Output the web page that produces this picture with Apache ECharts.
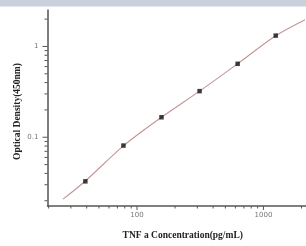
<!DOCTYPE html>
<html><head><meta charset="utf-8">
<script src="https://cdn.jsdelivr.net/npm/echarts@6/dist/echarts.min.js"></script>
<style>html,body{margin:0;padding:0;background:#fff}#c{width:306px;height:246px}</style>
</head><body><div id="c"></div>
<script>
// Data
const concentrations = [39.06, 78.13, 156.25, 312.5, 625, 1250];
const opticalDensity = [0.0327, 0.081, 0.166, 0.322, 0.644, 1.316];
// fitted curve
const curveX = [26.0, 39.06, 78.13, 156.25, 312.5, 625, 1250, 2133];
const curveY = [0.0208, 0.0330, 0.0805, 0.166, 0.322, 0.645, 1.31, 1.97];
const xMajorTicks = [100, 1000];
const xMinorTicks = [20, 30, 40, 50, 60, 70, 80, 90, 200, 300, 400, 500, 600, 700, 800, 900, 2000];
const yMajorTicks = [0.1, 1];
const yMinorTicks = [0.02, 0.03, 0.04, 0.05, 0.06, 0.07, 0.08, 0.09, 0.2, 0.3, 0.4, 0.5, 0.6, 0.7, 0.8, 0.9, 2];
const xLabels = ['100', '1000'];
const yLabels = ['0.1', '1'];
const xRange = [19.6, 2170];
const yRange = [0.0175, 2.52];

const chart = echarts.init(document.getElementById('c'), null, {renderer: 'canvas'});
const axisColor = '#555';
const serif = '"Liberation Serif","DejaVu Serif",serif';

const tickData = [];
xMajorTicks.forEach((v, i) => tickData.push({value: [v, yRange[0]], dir: 'x', len: 4, label: xLabels[i]}));
xMinorTicks.forEach(v => tickData.push({value: [v, yRange[0]], dir: 'x', len: 2.5}));
yMajorTicks.forEach((v, i) => tickData.push({value: [xRange[0], v], dir: 'y', len: 5, label: yLabels[i]}));
yMinorTicks.forEach(v => tickData.push({value: [xRange[0], v], dir: 'y', len: 3}));

const labelStyle = {fill: '#777', fontSize: 7, fontFamily: 'DejaVu Sans'};

chart.setOption({
  animation: false,
  backgroundColor: '#fff',
  graphic: [
    {type: 'rect', left: 0, top: 0, shape: {width: 306, height: 6}, style: {fill: '#c9d1dd'}, z: 10},
    {type: 'rect', left: 0, top: 6, shape: {width: 306, height: 1}, style: {fill: '#e4e8ee'}, z: 10}
  ],
  grid: {left: 47.5, top: 10, right: 0, bottom: 33},
  xAxis: {
    type: 'log', logBase: 10, min: xRange[0], max: xRange[1],
    axisLine: {show: true, lineStyle: {color: axisColor, width: 1.5}},
    axisTick: {show: false},
    splitLine: {show: false},
    axisLabel: {show: false},
    name: 'TNF a Concentration(pg/mL)', nameLocation: 'middle', nameGap: 25,
    nameTextStyle: {fontFamily: serif, fontWeight: 'bold', fontSize: 9.5, color: '#222', padding: [0, 0, 0, 12]}
  },
  yAxis: {
    type: 'log', logBase: 10, min: yRange[0], max: yRange[1],
    axisLine: {show: true, lineStyle: {color: axisColor, width: 1.5}},
    axisTick: {show: false},
    splitLine: {show: false},
    axisLabel: {show: false},
    name: 'Optical Density(450nm)', nameLocation: 'middle', nameGap: 25,
    nameTextStyle: {fontFamily: serif, fontWeight: 'bold', fontSize: 9.5, color: '#222', padding: [0, 0, 0, -7]}
  },
  series: [
    {
      type: 'line', data: curveX.map((x, i) => [x, curveY[i]]), smooth: 0.3, symbol: 'none',
      lineStyle: {color: '#c49595', width: 1.1}, z: 2, clip: true
    },
    {
      type: 'scatter', data: concentrations.map((x, i) => [x, opticalDensity[i]]),
      symbol: 'rect', symbolSize: 4.5, itemStyle: {color: '#111'}, z: 3
    },
    {
      type: 'custom', clip: false, silent: true, z: 4,
      data: tickData,
      renderItem: function (params, api) {
        const d = tickData[params.dataIndex];
        const p = api.coord([api.value(0), api.value(1)]);
        const children = [];
        if (d.dir === 'x') {
          children.push({type: 'line', shape: {x1: p[0], y1: p[1], x2: p[0], y2: p[1] + d.len}, style: {stroke: axisColor, lineWidth: 1}});
          if (d.label) children.push({type: 'text', x: p[0], y: p[1] + 9.5,
            style: Object.assign({text: d.label, align: 'center', verticalAlign: 'middle'}, labelStyle)});
        } else {
          children.push({type: 'line', shape: {x1: p[0] - d.len, y1: p[1], x2: p[0], y2: p[1]}, style: {stroke: axisColor, lineWidth: 1}});
          if (d.label) children.push({type: 'text', x: p[0] - 9, y: p[1],
            style: Object.assign({text: d.label, align: 'right', verticalAlign: 'middle'}, labelStyle)});
        }
        return {type: 'group', children: children};
      }
    }
  ]
});
</script></body></html>
